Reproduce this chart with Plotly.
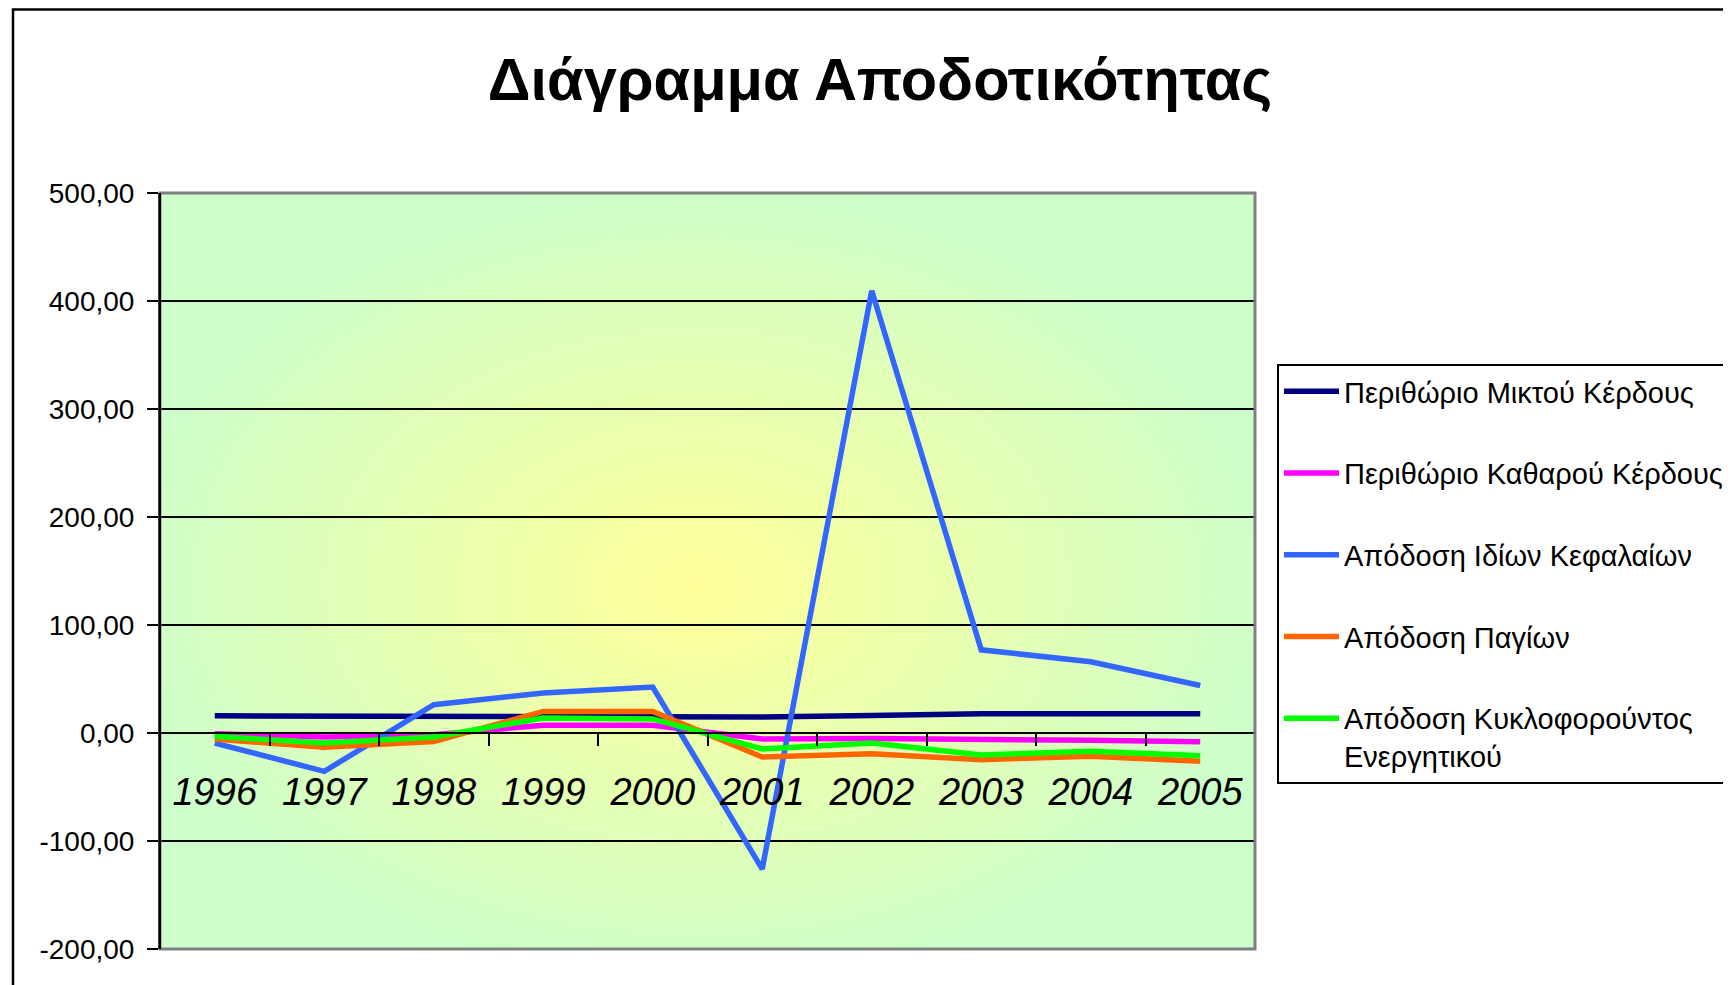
import base64
import plotly.graph_objects as go

years = ['1996', '1997', '1998', '1999', '2000', '2001', '2002', '2003', '2004', '2005']
mikto_kerdos = [15.9, 15.9, 15.9, 15.7, 15.4, 14.8, 16.3, 17.8, 17.9, 17.9]
katharo_kerdos = [-0.6, -3.7, -1.6, 7.1, 7.1, -5.6, -5.0, -6.5, -6.8, -8.0]
idia_kefalaia = [-9.3, -35.5, 26.2, 37.0, 42.6, -126.0, 409.5, 77.0, 66.0, 44.0]
pagia = [-5.6, -13.3, -7.8, 20.0, 20.0, -22.2, -19.1, -24.7, -21.6, -26.2]
kykloforoun = [-3.1, -9.3, -3.7, 13.9, 13.0, -14.8, -9.3, -20.4, -17.0, -21.0]

series_names = [
    'Περιθώριο Μικτού Κέρδους',
    'Περιθώριο Καθαρού Κέρδους',
    'Απόδοση Ιδίων Κεφαλαίων',
    'Απόδοση Παγίων',
    'Απόδοση Κυκλοφορούντος<br>Ενεργητικού',
]
series_values = [mikto_kerdos, katharo_kerdos, idia_kefalaia, pagia, kykloforoun]
series_colors = ['#000080', '#FF00FF', '#3366FF', '#FF6600', '#00FF00']

y_ticks = [-200, -100, 0, 100, 200, 300, 400, 500]
y_ticktext = ['-200,00', '-100,00', '0,00', '100,00', '200,00', '300,00', '400,00', '500,00']

FONT = 'Liberation Sans, Arial, sans-serif'

fig = go.Figure()
for i, (name, vals, col) in enumerate(zip(series_names, series_values, series_colors)):
    fig.add_trace(go.Scatter(
        x=years, y=vals, mode='lines', name=name,
        line=dict(color=col, width=5.5),
        legendgroup='g%d' % i,
    ))

svg = ('<svg xmlns="http://www.w3.org/2000/svg" width="400" height="400" '
       'viewBox="0 0 100 100" preserveAspectRatio="none"><defs>'
       '<radialGradient id="g" cx="0.49" cy="0.52" r="0.55">'
       '<stop offset="0" stop-color="#FFFF99"/>'
       '<stop offset="1" stop-color="#CCFFCC"/>'
       '</radialGradient></defs>'
       '<rect x="0" y="0" width="100" height="100" fill="url(#g)"/></svg>')
uri = 'data:image/svg+xml;base64,' + base64.b64encode(svg.encode('utf-8')).decode('ascii')

OFF = 8  # page body margin
W, H = 1731 - OFF, 985 - OFF
L, R, T, B = 160 - OFF, 1255 - OFF, 193 - OFF, 949 - OFF
pw, ph = R - L, B - T

def px2paper_x(px):
    return (px - OFF - L) / pw

def px2paper_y(py):
    return (B - (py - OFF)) / ph

fig.update_layout(
    width=W, height=H,
    margin=dict(l=L, r=W - R, t=T, b=H - B, autoexpand=False),
    paper_bgcolor='white',
    plot_bgcolor='rgba(0,0,0,0)',
    font=dict(family=FONT, color='black'),
    title=dict(
        text='<b>Διάγραμμα Αποδοτικότητας</b>',
        x=(880 - OFF) / W, xref='container', xanchor='center',
        y=1 - (79 - OFF) / H, yref='container', yanchor='middle',
        font=dict(family=FONT, size=59.5, color='black'),
    ),
    images=[dict(
        source=uri, xref='paper', yref='paper', x=0, y=1, sizex=1, sizey=1,
        xanchor='left', yanchor='top', sizing='stretch', layer='below',
    )],
    xaxis=dict(
        type='category', range=[-0.5, 9.5],
        anchor='free', position=(0 - (-200)) / 700,
        showgrid=False, showline=True, linecolor='black', linewidth=2,
        ticks='outside', ticklen=12, tickwidth=2, tickcolor='black',
        tickson='boundaries', ticklabelstandoff=25,
        tickfont=dict(family=FONT, size=38, style='italic', color='black'),
        zeroline=False,
    ),
    yaxis=dict(
        range=[-200, 500], tickvals=y_ticks, ticktext=y_ticktext,
        showgrid=True, gridcolor='black', gridwidth=1.5,
        showline=True, linecolor='black', linewidth=2,
        ticks='outside', ticklen=11, tickwidth=2, tickcolor='black',
        ticklabelstandoff=7,
        tickfont=dict(family=FONT, size=28, color='black'),
        zeroline=False,
    ),
    legend=dict(
        x=px2paper_x(1277), y=px2paper_y(364), xanchor='left', yanchor='top',
        bgcolor='white', bordercolor='black', borderwidth=2,
        font=dict(family=FONT, size=29, color='black'),
        traceorder='grouped', tracegroupgap=41, valign='top',
        itemwidth=55,
    ),
    showlegend=True,
    shapes=[
        dict(type='rect', xref='paper', yref='paper', x0=0, x1=1, y0=0, y1=1,
             line=dict(color='#808080', width=3), layer='above'),
        dict(type='line', xref='paper', yref='paper', x0=0, x1=0, y0=0, y1=1,
             line=dict(color='black', width=2), layer='above'),
        dict(type='rect', xref='paper', yref='paper',
             x0=px2paper_x(13), x1=px2paper_x(1780),
             y0=px2paper_y(1010), y1=px2paper_y(OFF + 1.5),
             line=dict(color='black', width=2.5), layer='above'),
    ],
)

fig.write_html('out.html')
